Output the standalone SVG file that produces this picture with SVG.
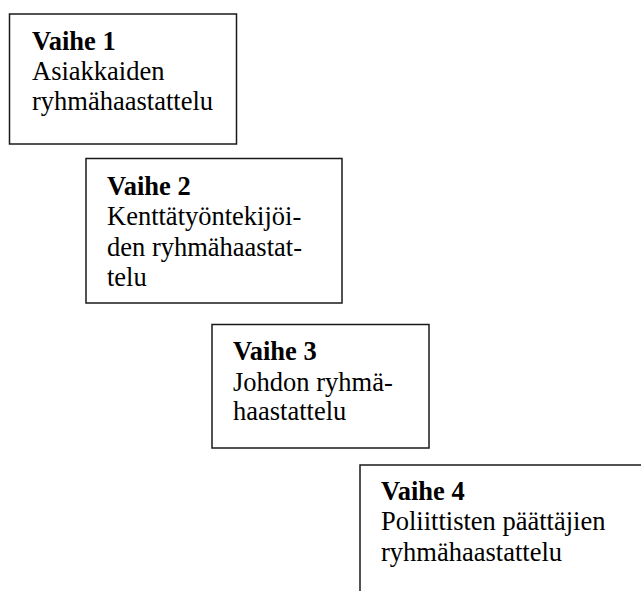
<svg xmlns="http://www.w3.org/2000/svg" width="641" height="591" viewBox="0 0 641 591">
<style>
.box{fill:#fff;stroke:#1a1a1a;stroke-width:1.5}
text{font-family:"Liberation Serif","Times New Roman",serif;font-size:26.5px;fill:#000}
.b{font-weight:bold}
</style>
<rect width="641" height="591" fill="#fff"/>
<g id="connectors"></g>
<g id="vaihe1">
<rect class="box" x="9.5" y="14" width="227" height="130"/>
<text x="32" y="50" class="b">Vaihe 1</text>
<text x="32" y="80">Asiakkaiden</text>
<text x="32" y="110">ryhmähaastattelu</text>
</g>
<g id="vaihe2">
<rect class="box" x="86" y="158.5" width="256" height="144.5"/>
<text x="107" y="195" class="b">Vaihe 2</text>
<text x="107" y="225">Kenttätyöntekijöi-</text>
<text x="107" y="256">den ryhmähaastat-</text>
<text x="107" y="286">telu</text>
</g>
<g id="vaihe3">
<rect class="box" x="212" y="324.5" width="217" height="123.5"/>
<text x="233" y="360" class="b">Vaihe 3</text>
<text x="233" y="391">Johdon ryhmä-</text>
<text x="233" y="420">haastattelu</text>
</g>
<g id="vaihe4">
<rect class="box" x="360" y="465" width="300" height="160"/>
<text x="381" y="500" class="b">Vaihe 4</text>
<text x="381" y="530">Poliittisten päättäjien</text>
<text x="381" y="561">ryhmähaastattelu</text>
</g>
</svg>
